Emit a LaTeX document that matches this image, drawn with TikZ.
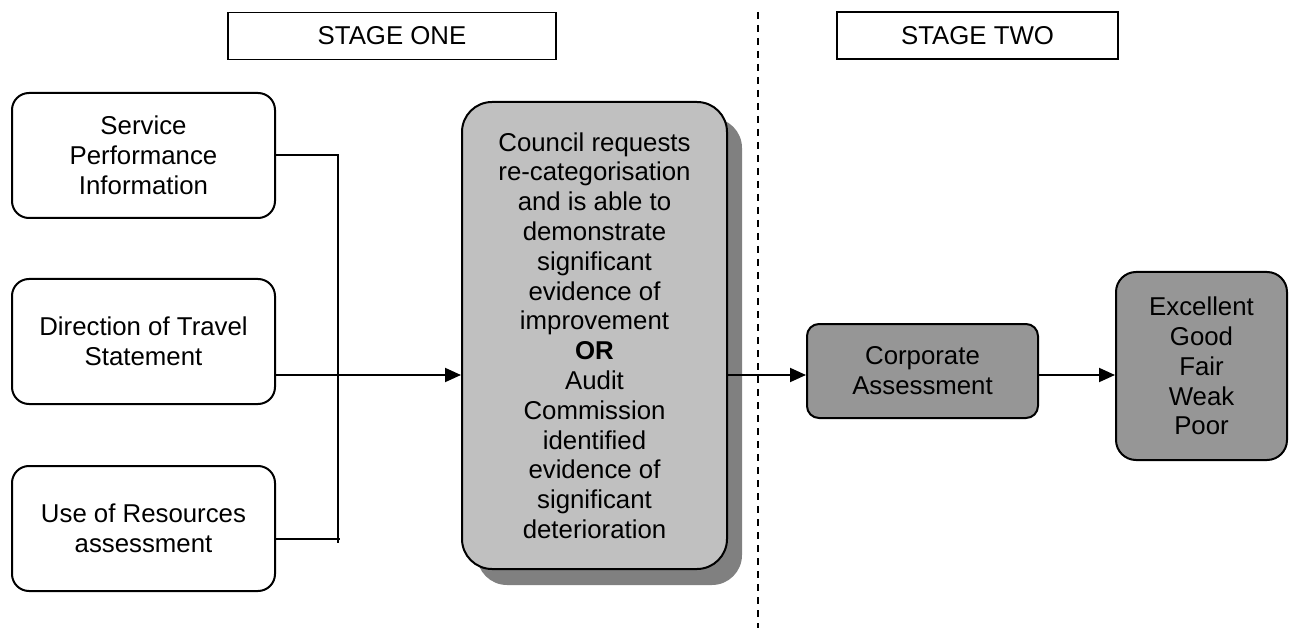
\documentclass[tikz,border=0pt]{standalone}
\usepackage{fontspec}
\setmainfont{Liberation Sans}
\usetikzlibrary{arrows.meta,shadows}
\definecolor{lightbox}{HTML}{C0C0C0}
\definecolor{darkbox}{HTML}{969696}
\definecolor{shadowgray}{HTML}{808080}
\begin{document}
\begin{tikzpicture}[x=1pt,y=-1pt,
  every node/.style={font=\fontsize{25.8}{29.8}\selectfont, align=center, inner sep=0pt},
  inbox/.style={draw, line width=2pt, rounded corners=17pt, minimum width=263pt, minimum height=125pt},
  stagebox/.style={draw, line width=1.8pt, minimum height=47pt},
  conn/.style={line width=1.9pt},
  arr/.style={line width=1.9pt, -{Triangle[length=16pt,width=14pt]}}
]
\useasboundingbox (0,0) rectangle (1290,628);

% stage headers
\node[stagebox, minimum width=328pt] (s1) at (392,36) {STAGE ONE};
\node[stagebox, minimum width=281pt] (s2) at (977.5,35.5) {STAGE TWO};

% dashed divider
\coordinate (dtop) at (758,12);
\coordinate (dbot) at (758,628);
\draw[line width=2pt, dash pattern=on 7pt off 6pt] (dtop) -- (dbot);

% input boxes
\node[inbox] (b1) at (143.5,155.5) {Service\\Performance\\Information};
\node[inbox] (b2) at (143.5,341.5) {Direction of Travel\\Statement};
\node[inbox] (b3) at (143.5,528.5) {Use of Resources\\assessment};

% central box
\node[draw, line width=2pt, fill=lightbox, rounded corners=30pt,
      minimum width=265pt, minimum height=467pt,
      drop shadow={shadow xshift=15pt, shadow yshift=-16pt, fill=shadowgray, opacity=1}]
  (c) at (594.5,335.5)
  {Council requests\\re-categorisation\\and is able to\\demonstrate\\significant\\evidence of\\improvement\\\textbf{OR}\\Audit\\Commission\\identified\\evidence of\\significant\\deterioration};

% stage two boxes
\node[draw, line width=2pt, fill=darkbox, rounded corners=12pt,
      minimum width=231pt, minimum height=94pt] (corp) at (922.5,371) {Corporate\\Assessment};
\node[draw, line width=2pt, fill=darkbox, rounded corners=20pt,
      minimum width=171pt, minimum height=188pt] (res) at (1201.5,366) {Excellent\\Good\\Fair\\Weak\\Poor};

% connectors
\coordinate (row) at (0,375);
\coordinate (bus1) at (338,155);
\coordinate (bus3) at (338,543);
\coordinate (b3end) at (340,539);
\draw[conn] (b1.east |- bus1) -- (bus1) -- (bus3);
\draw[conn] (b3.east |- b3end) -- (b3end);
\draw[arr] (b2.east |- row) -- (c.west |- row);
\draw[arr] (c.east |- row) -- (corp.west |- row);
\draw[arr] (corp.east |- row) -- (res.west |- row);
\end{tikzpicture}
\end{document}
